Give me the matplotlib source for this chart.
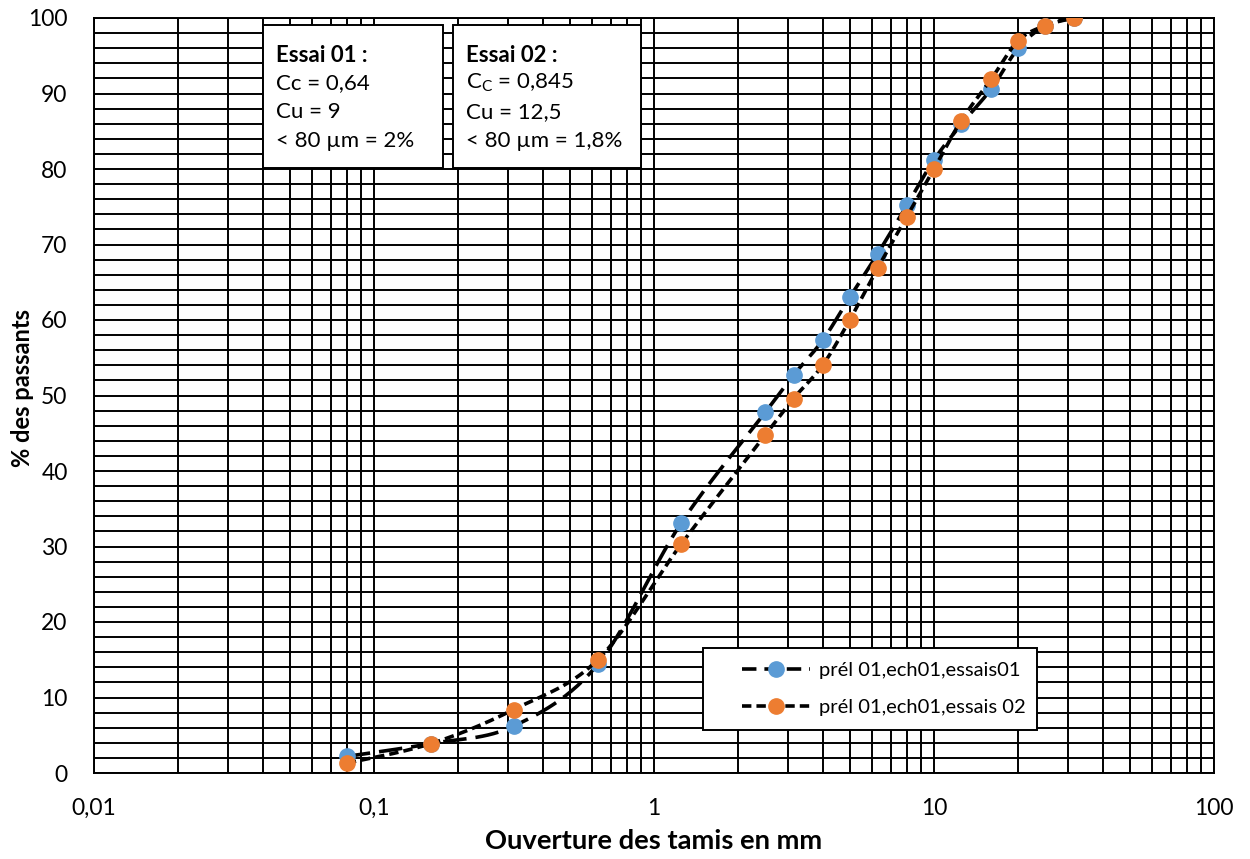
import numpy as np
import matplotlib
matplotlib.use("Agg")
import matplotlib.pyplot as plt
from matplotlib.patches import Rectangle
from matplotlib.ticker import FixedLocator, LogLocator, FuncFormatter, MultipleLocator

plt.rcParams['font.family'] = ['Lato', 'DejaVu Sans']

# ---- data ----
sieves = [0.08, 0.16, 0.315, 0.63, 1.25, 2.5, 3.15, 4, 5, 6.3, 8, 10, 12.5, 16, 20, 25, 31.5]
essai01 = [2.2, 3.9, 6.2, 14.4, 33.1, 47.8, 52.7, 57.3, 63.0, 68.8, 75.2, 81.2, 85.9, 90.6, 96.0, 99.0, 100.0]
essai02 = [1.3, 3.9, 8.4, 15.0, 30.3, 44.8, 49.6, 54.0, 60.0, 66.9, 73.7, 80.0, 86.4, 91.9, 97.0, 99.0, 100.0]
label01 = "prél 01,ech01,essais01"
label02 = "prél 01,ech01,essais 02"
x_ticks = [0.01, 0.1, 1, 10, 100]
x_ticklabels = ["0,01", "0,1", "1", "10", "100"]
y_ticks = list(range(0, 101, 10))
box1_lines = ["Essai 01 :", "Cc = 0,64", "Cu = 9", "< 80 µm = 2%"]
box2_lines = ["Essai 02 :", r"C$_\mathregular{C}$ = 0,845", "Cu = 12,5", "< 80 µm = 1,8%"]

BLUE = "#5B9BD5"
ORANGE = "#ED7D31"

W, H = 1250, 859
fig = plt.figure(figsize=(W / 100, H / 100), dpi=100)
L, R, T, B = 94, 1214, 18, 773
ax = fig.add_axes([L / W, 1 - B / H, (R - L) / W, (B - T) / H])
ax.set_xscale('log')
ax.set_xlim(0.01, 100)
ax.set_ylim(0, 100)

PX_DEC = (R - L) / 4.0
PX_UNIT = (B - T) / 100.0


def smooth(xs, ys, n=30):
    """Excel-like smoothed line (Catmull-Rom Bezier) in screen space."""
    u = np.log10(np.asarray(xs, float)) * PX_DEC
    v = np.asarray(ys, float) * PX_UNIT
    P = np.column_stack([u, v])
    m = len(P)
    out = []
    for i in range(m - 1):
        p0 = P[i - 1] if i > 0 else P[i]
        p1 = P[i]
        p2 = P[i + 1]
        p3 = P[i + 2] if i + 2 < m else P[i + 1]
        c1 = p1 + (p2 - p0) / 6.0
        c2 = p2 - (p3 - p1) / 6.0
        t = np.linspace(0, 1, n)[:, None]
        seg = ((1 - t) ** 3) * p1 + 3 * ((1 - t) ** 2) * t * c1 + 3 * (1 - t) * t ** 2 * c2 + t ** 3 * p2
        out.append(seg if i == 0 else seg[1:])
    S = np.vstack(out)
    return 10 ** (S[:, 0] / PX_DEC), S[:, 1] / PX_UNIT


def ax_x(px):
    return (px - L) / (R - L)


def ax_y(py):
    return (B - py) / (B - T)


# grid
ax.xaxis.set_major_locator(FixedLocator(x_ticks))
ax.xaxis.set_minor_locator(LogLocator(base=10, subs=np.arange(2, 10), numticks=20))
ax.yaxis.set_major_locator(FixedLocator(y_ticks))
ax.yaxis.set_minor_locator(MultipleLocator(2))
ax.grid(True, which='both', color='black', linewidth=1.4)
ax.set_axisbelow(True)
ax.xaxis.set_major_formatter(FuncFormatter(lambda v, p: x_ticklabels[x_ticks.index(v)] if v in x_ticks else ""))
ax.xaxis.set_minor_formatter(FuncFormatter(lambda v, p: ""))
ax.set_yticklabels([str(v) for v in y_ticks])
ax.tick_params(which='both', length=0)
ax.tick_params(axis='x', pad=18, labelsize=16.5)
ax.tick_params(axis='y', pad=19, labelsize=16.5)
for s in ax.spines.values():
    s.set_color('black')
    s.set_linewidth(1.4)

LW = 2.6
DASH_LONG = (6.5, 2.5)
DASH_SHORT = (2.6, 1.4)
MS = 11

# series 1
sx, sy = smooth(sieves, essai01)
ax.plot(sx, sy, color='black', linewidth=LW, dashes=DASH_LONG, zorder=3)
ax.plot(sieves, essai01, linestyle='none', marker='o', markersize=MS, color=BLUE, zorder=3)
# series 2
sx, sy = smooth(sieves, essai02)
ax.plot(sx, sy, color='black', linewidth=LW, dashes=DASH_SHORT, zorder=3)
ax.plot(sieves, essai02, linestyle='none', marker='o', markersize=MS, color=ORANGE, zorder=3)

# legend handles
h1, = ax.plot([], [], color='black', linewidth=LW, dashes=(4.0, 2.2), marker='o', markersize=MS,
              markerfacecolor=BLUE, markeredgecolor=BLUE)
h2, = ax.plot([], [], color='black', linewidth=LW, dashes=DASH_SHORT, marker='o', markersize=MS,
              markerfacecolor=ORANGE, markeredgecolor=ORANGE)

# legend frame
ax.add_patch(Rectangle((ax_x(703), ax_y(730)), ax_x(1037) - ax_x(703), ax_y(648) - ax_y(730),
                       transform=ax.transAxes, facecolor='white', edgecolor='black',
                       linewidth=1.4, zorder=5))
leg = ax.legend([h1, h2], [label01, label02], loc='center left',
                bbox_to_anchor=(ax_x(742), ax_y(689)),
                fontsize=14.5, frameon=False, numpoints=1,
                handlelength=3.4, handletextpad=0.4, borderaxespad=0,
                labelspacing=1.0, borderpad=0)
leg.set_zorder(6)

# axis labels
ax.set_xlabel("Ouverture des tamis en mm", fontsize=19.7, fontweight='bold')
ax.xaxis.label.set_va('center')
ax.xaxis.set_label_coords(0.5, ax_y(841))
ax.set_ylabel("% des passants", fontsize=17, fontweight='bold')
ax.yaxis.label.set_va('center')
ax.yaxis.set_label_coords(ax_x(23), ax_y(388))

# text boxes
for (x0, x1, lines) in [(263, 443, box1_lines), (453, 641, box2_lines)]:
    rect = Rectangle((ax_x(x0), ax_y(168)), ax_x(x1) - ax_x(x0), ax_y(25) - ax_y(168),
                     transform=ax.transAxes, facecolor='white', edgecolor='black', linewidth=1.4, zorder=6)
    ax.add_patch(rect)
    for k, (line, py) in enumerate(zip(lines, [55, 83, 112, 141])):
        ax.text(ax_x(x0 + 13), ax_y(py), line, transform=ax.transAxes, fontsize=16,
                fontweight='bold' if k == 0 else 'normal', va='center', ha='left', zorder=7)

fig.savefig("out.png", dpi=100)
